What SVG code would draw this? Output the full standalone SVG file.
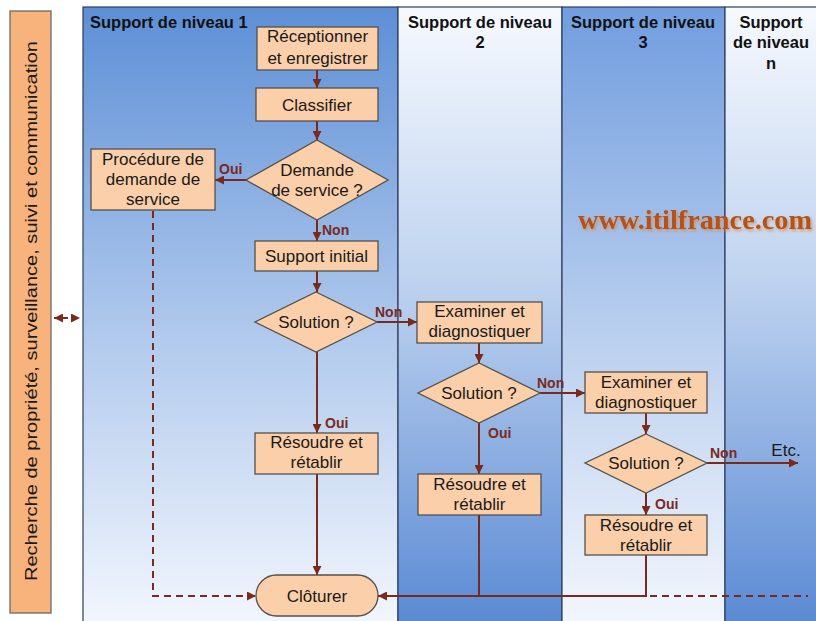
<svg xmlns="http://www.w3.org/2000/svg" width="816" height="621" viewBox="0 0 816 621">
<defs>
<linearGradient id="gA" x1="0" y1="0" x2="0" y2="1">
<stop offset="0" stop-color="#5d8fd6"/>
<stop offset="0.55" stop-color="#b3cbed"/>
<stop offset="1" stop-color="#f2f6fd"/>
</linearGradient>
<linearGradient id="gA3" x1="0" y1="0" x2="0" y2="1">
<stop offset="0" stop-color="#719ddf"/>
<stop offset="0.55" stop-color="#bcd1ef"/>
<stop offset="1" stop-color="#f2f6fd"/>
</linearGradient>
<linearGradient id="gB" x1="0" y1="0" x2="0" y2="1">
<stop offset="0" stop-color="#f6f9fe"/>
<stop offset="0.45" stop-color="#bed2ef"/>
<stop offset="1" stop-color="#5a8ad4"/>
</linearGradient>
<marker id="ah" viewBox="0 0 10 10" refX="10" refY="5" markerWidth="9" markerHeight="9" markerUnits="userSpaceOnUse" orient="auto">
<path d="M0,0 L10,5 L0,10 z" fill="#7a2a1c"/>
</marker>
<marker id="ahs" viewBox="0 0 10 10" refX="0" refY="5" markerWidth="9" markerHeight="9" markerUnits="userSpaceOnUse" orient="auto">
<path d="M10,0 L0,5 L10,10 z" fill="#7a2a1c"/>
</marker>
<filter id="sh" x="-5%" y="-30%" width="110%" height="160%">
<feDropShadow dx="1.5" dy="2" stdDeviation="1.5" flood-color="#d9874a" flood-opacity="0.8"/>
</filter>
<style>
.lane{stroke:#2e3d5c;stroke-width:1.2}
.node{fill:#fbcfa9;stroke:#555049;stroke-width:1.3}
.t{font-family:"Liberation Sans",Arial,sans-serif;font-size:17px;fill:#1a1a1a;text-anchor:middle}
.h{font-family:"Liberation Sans",Arial,sans-serif;font-size:16.5px;font-weight:bold;fill:#111}
.lbl{font-family:"Liberation Sans",Arial,sans-serif;font-size:14px;font-weight:bold;fill:#7a2a1c}
.c{fill:none;stroke:#7a2a1c;stroke-width:2}
.d{fill:none;stroke:#7a2a1c;stroke-width:2;stroke-dasharray:7,5}
</style>
</defs>
<rect width="816" height="621" fill="#ffffff"/>
<g id="lanes">
<rect class="lane" x="83" y="7" width="315" height="616" fill="url(#gA)"/>
<rect class="lane" x="398" y="7" width="164" height="616" fill="url(#gB)"/>
<rect class="lane" x="562" y="7" width="163" height="616" fill="url(#gA3)"/>
<rect class="lane" x="725" y="7" width="95" height="616" fill="url(#gB)"/>
<text class="h" x="90" y="28">Support de niveau 1</text>
<text class="h" x="480" y="28" text-anchor="middle">Support de niveau</text>
<text class="h" x="480" y="48" text-anchor="middle">2</text>
<text class="h" x="643" y="28" text-anchor="middle">Support de niveau</text>
<text class="h" x="643" y="48" text-anchor="middle">3</text>
<text class="h" x="771" y="28" text-anchor="middle">Support</text>
<text class="h" x="771" y="48" text-anchor="middle">de niveau</text>
<text class="h" x="771" y="69" text-anchor="middle">n</text>
</g>
<g id="watermark">
<text x="578" y="229" font-family="Liberation Serif,serif" font-weight="bold" font-size="27" fill="#b0521c" textLength="234" lengthAdjust="spacingAndGlyphs" filter="url(#sh)">www.itilfrance.com</text>
</g>
<g id="side">
<rect x="10" y="11" width="41" height="602" fill="#f8b27c" stroke="#6b6b6b" stroke-width="1.3"/>
<text class="t" transform="translate(37,311) rotate(-90)" font-size="20" textLength="540" lengthAdjust="spacingAndGlyphs">Recherche de propriété, surveillance, suivi et communication</text>
</g>
<g id="connectors">
<path class="c" d="M317,70 V88" marker-end="url(#ah)"/>
<path class="c" d="M317,121 V140" marker-end="url(#ah)"/>
<path class="c" d="M246,180 H215" marker-end="url(#ah)"/>
<path class="c" d="M317,220 V241" marker-end="url(#ah)"/>
<path class="c" d="M317,271 V292" marker-end="url(#ah)"/>
<path class="c" d="M377,322 H417" marker-end="url(#ah)"/>
<path class="c" d="M317,352 V433" marker-end="url(#ah)"/>
<path class="c" d="M317,474 V575" marker-end="url(#ah)"/>
<path class="c" d="M479,343 V363" marker-end="url(#ah)"/>
<path class="c" d="M540,393 H585" marker-end="url(#ah)"/>
<path class="c" d="M479,423 V474" marker-end="url(#ah)"/>
<path class="c" d="M646,413 V434" marker-end="url(#ah)"/>
<path class="c" d="M707,463 H798" marker-end="url(#ah)"/>
<path class="c" d="M646,493 V515" marker-end="url(#ah)"/>
<path class="c" d="M646,555 V596 H378" marker-end="url(#ah)"/>
<path class="c" d="M479,515 V596"/>
<path class="d" d="M650,596 H808"/>
<path class="d" d="M153,211 V596 H256" marker-end="url(#ah)"/>
<path fill="none" stroke="#7a2a1c" stroke-width="2" stroke-dasharray="5,4" d="M54,318 H80" marker-start="url(#ahs)" marker-end="url(#ah)"/>
<text class="lbl" x="219" y="174">Oui</text>
<text class="lbl" x="322" y="235">Non</text>
<text class="lbl" x="375" y="317">Non</text>
<text class="lbl" x="325" y="428">Oui</text>
<text class="lbl" x="537" y="388">Non</text>
<text class="lbl" x="488" y="438">Oui</text>
<text class="lbl" x="710" y="458">Non</text>
<text class="lbl" x="655" y="509">Oui</text>
<text class="t" x="786" y="456">Etc.</text>
</g>
<g id="n-recv"><rect class="node" x="257" y="27" width="121" height="43"/><text class="t" x="317.5" y="42">Réceptionner</text><text class="t" x="317.5" y="64">et enregistrer</text></g>
<g id="n-classify"><rect class="node" x="256" y="88" width="122" height="33"/><text class="t" x="317" y="110.5">Classifier</text></g>
<g id="n-demande"><polygon class="node" points="317,140 388,180 317,220 246,180"/><text class="t" x="317" y="176">Demande</text><text class="t" x="317" y="196">de service ?</text></g>
<g id="n-procedure"><rect class="node" x="91" y="149" width="124" height="61"/><text class="t" x="153" y="165">Procédure de</text><text class="t" x="153" y="185">demande de</text><text class="t" x="153" y="205">service</text></g>
<g id="n-support"><rect class="node" x="255" y="241" width="123" height="30"/><text class="t" x="316.5" y="262">Support initial</text></g>
<g id="n-sol1"><polygon class="node" points="316,292 377,322 316,352 255,322"/><text class="t" x="316" y="328">Solution ?</text></g>
<g id="n-exam1"><rect class="node" x="417" y="302" width="125" height="41"/><text class="t" x="479.5" y="317">Examiner et</text><text class="t" x="479.5" y="337">diagnostiquer</text></g>
<g id="n-sol2"><polygon class="node" points="479,363 540,393 479,423 418,393"/><text class="t" x="479" y="399">Solution ?</text></g>
<g id="n-exam2"><rect class="node" x="585" y="372" width="122" height="41"/><text class="t" x="646" y="388">Examiner et</text><text class="t" x="646" y="408">diagnostiquer</text></g>
<g id="n-sol3"><polygon class="node" points="646,434 707,463 646,493 585,463"/><text class="t" x="646" y="469">Solution ?</text></g>
<g id="n-res1"><rect class="node" x="255" y="433" width="123" height="41"/><text class="t" x="316.5" y="448">Résoudre et</text><text class="t" x="316.5" y="468">rétablir</text></g>
<g id="n-res2"><rect class="node" x="418" y="474" width="123" height="41"/><text class="t" x="479.5" y="490">Résoudre et</text><text class="t" x="479.5" y="510">rétablir</text></g>
<g id="n-res3"><rect class="node" x="585" y="515" width="122" height="40"/><text class="t" x="646" y="531">Résoudre et</text><text class="t" x="646" y="551">rétablir</text></g>
<g id="n-cloturer"><rect class="node" x="256" y="575" width="122" height="41" rx="20.5"/><text class="t" x="317" y="602">Clôturer</text></g>
</svg>
